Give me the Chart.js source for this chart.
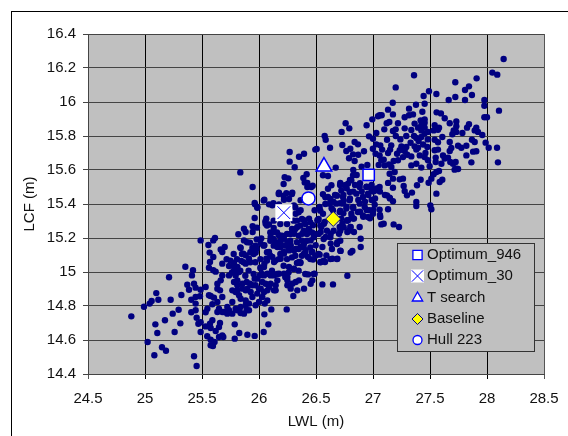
<!DOCTYPE html>
<html>
<head>
<meta charset="utf-8">
<script src="https://cdn.jsdelivr.net/npm/chart.js@4"></script>
<style>
    html, body { margin: 0; padding: 0; background: #ffffff; overflow: hidden; }
    #frame { position: absolute; left: 11px; top: 11px; width: 600px; height: 500px; border-left: 1px solid #000; border-top: 1px solid #000; }
    #migrafica { position: absolute; left: 0; top: 0; }
</style>
</head>
<body>
<div id="frame"></div>
<canvas id="migrafica" width="568" height="436"></canvas>
<script>
const optimum946 = [26.962, 15.571];
const optimum30 = [26.218, 15.349];
const tSearch = [26.57, 15.62];
const baseline = [26.651, 15.312];
const hull223 = [26.434, 15.433];

// LWL, LCF of the population
const hullPoints = [
    [28.146,16.253],[28.047,16.173],[28.09,16.161],[27.909,16.139],[27.36,16.157],[27.199,16.086],[27.722,16.116],[27.842,16.092],
    [27.807,16.071],[27.491,16.063],[27.556,16.047],[27.444,16.035],[27.868,16.041],[27.722,16.029],[27.664,16.012],[27.807,16.012],
    [27.977,16.012],[27.977,15.978],[28.105,15.949],[27.173,15.996],[27.377,15.984],[27.453,15.99],[27.316,15.961],[27.132,15.955],
    [27.433,15.943],[27.558,15.939],[27.596,15.933],[27.629,15.904],[27.977,15.91],[28.0,15.91],[27.058,15.922],[27.076,15.922],
    [27.044,15.916],[27.175,15.927],[27.278,15.91],[27.316,15.922],[27.351,15.927],[26.994,15.898],[27.453,15.898],[27.418,15.892],
    [27.453,15.878],[27.143,15.882],[27.12,15.875],[27.219,15.875],[26.76,15.875],[26.944,15.863],[26.792,15.845],[26.725,15.824],
    [27.099,15.839],[27.199,15.839],[27.175,15.829],[27.278,15.845],[27.336,15.835],[27.365,15.873],[27.424,15.863],[27.453,15.849],
    [27.424,15.833],[27.395,15.849],[27.541,15.863],[27.579,15.849],[27.532,15.833],[27.57,15.837],[27.673,15.875],[27.731,15.886],
    [27.731,15.857],[27.708,15.833],[27.696,15.81],[27.842,15.869],[27.825,15.849],[27.784,15.818],[27.906,15.849],[27.892,15.833],
    [27.921,15.824],[27.959,15.806],[27.731,15.824],[27.029,15.818],[26.965,15.798],[27.0,15.784],[26.576,15.8],[26.585,15.778],
    [27.123,15.778],[27.292,15.8],[27.38,15.788],[27.424,15.794],[27.453,15.814],[27.482,15.824],[27.608,15.794],[27.541,15.778],
    [27.57,15.763],[27.868,15.778],[27.892,15.765],[27.988,15.761],[27.673,15.765],[26.731,15.747],[26.766,15.712],[26.801,15.725],
    [26.839,15.765],[26.868,15.751],[26.494,15.72],[26.623,15.731],[26.999,15.725],[27.029,15.751],[27.064,15.745],[27.023,15.696],
    [26.921,15.71],[26.825,15.692],[26.79,15.669],[26.839,15.653],[27.16,15.745],[27.132,15.7],[27.094,15.661],[27.058,15.686],
    [27.249,15.739],[27.292,15.735],[27.234,15.716],[27.211,15.696],[27.278,15.712],[27.219,15.657],[27.181,15.653],[27.365,15.739],
    [27.395,15.731],[27.477,15.735],[27.541,15.716],[27.57,15.72],[27.673,15.712],[27.687,15.729],[27.746,15.743],[27.819,15.743],
    [27.775,15.731],[27.878,15.708],[27.906,15.71],[28.015,15.731],[28.088,15.731],[27.819,15.686],[27.614,15.686],[27.658,15.673],
    [27.629,15.667],[27.453,15.676],[27.41,15.686],[27.482,15.657],[27.55,15.673],[27.55,15.647],[27.6,15.637],[27.678,15.647],
    [27.725,15.647],[27.702,15.637],[27.863,15.645],[28.096,15.645],[27.336,15.68],[27.263,15.676],[27.336,15.627],[27.38,15.637],
    [27.424,15.614],[27.497,15.622],[27.731,15.608],[27.746,15.606],[27.716,15.602],[27.556,15.588],[27.579,15.594],[27.532,15.575],
    [27.512,15.549],[27.488,15.525],[27.608,15.543],[27.585,15.529],[27.418,15.543],[27.386,15.51],[27.263,15.549],[27.234,15.545],
    [27.19,15.588],[27.146,15.578],[27.161,15.618],[27.102,15.627],[27.073,15.657],[27.14,15.633],[27.269,15.506],[27.278,15.476],
    [27.298,15.451],[27.342,15.467],[27.556,15.461],[27.38,15.412],[27.38,15.388],[27.503,15.392],[27.512,15.369],[27.132,15.369],
    [27.175,15.549],[27.132,15.524],[27.175,15.496],[27.123,15.451],[27.146,15.437],[27.175,15.416],[27.094,15.284],[27.073,15.28],
    [27.181,15.28],[27.228,15.265],[27.058,15.367],[27.064,15.324],[27.015,15.396],[26.883,15.265],[26.801,15.265],[26.825,15.314],
    [26.781,15.304],[26.673,15.614],[26.561,15.569],[26.605,15.565],[26.459,15.5],[26.635,15.51],[26.605,15.49],[26.561,15.457],
    [26.605,15.441],[26.713,15.524],[26.751,15.51],[26.722,15.48],[26.781,15.52],[26.825,15.569],[26.81,15.539],[26.678,15.451],
    [26.737,15.441],[26.795,15.471],[26.854,15.461],[26.912,15.441],[26.956,15.461],[27.0,15.422],[26.883,15.5],[26.942,15.5],
    [26.985,15.49],[27.029,15.48],[27.058,15.5],[26.678,15.402],[26.737,15.402],[26.795,15.422],[26.825,15.382],[26.883,15.402],
    [26.927,15.382],[26.971,15.363],[26.868,15.353],[26.912,15.333],[26.956,15.324],[27.0,15.343],[26.62,15.402],[26.649,15.363],
    [26.708,15.353],[26.766,15.373],[26.81,15.343],[26.532,15.382],[26.488,15.363],[26.561,15.343],[26.576,15.294],[26.518,15.304],
    [26.474,15.275],[26.547,15.265],[26.708,15.265],[26.722,15.314],[24.88,14.739],[24.991,14.796],[25.041,14.814],[25.058,14.829],
    [25.099,14.876],[25.117,14.837],[25.225,14.837],[25.211,14.969],[25.354,15.031],[25.319,14.865],[25.175,14.716],[25.243,14.755],
    [25.295,14.778],[25.091,14.692],[25.108,14.641],[25.26,14.647],[25.31,14.698],[25.023,14.588],[25.149,14.557],[25.184,14.537],
    [25.082,14.51],[25.43,14.504],[25.453,14.447],[25.488,15.186],[25.599,15.186],[25.614,15.2],[25.556,15.159],[25.567,15.114],
    [25.599,15.088],[25.57,15.059],[25.561,15.025],[25.599,15.01],[25.62,15.002],[25.421,15.01],[25.412,14.98],[25.371,14.925],
    [25.43,14.931],[25.386,14.896],[25.444,14.908],[25.488,14.896],[25.532,14.912],[25.406,14.837],[25.444,14.814],[25.482,14.857],
    [25.444,14.853],[25.406,14.763],[25.444,14.775],[25.453,14.731],[25.468,14.696],[25.488,14.704],[25.488,14.647],[25.532,14.763],
    [25.547,14.784],[25.576,14.859],[25.561,14.863],[25.605,14.849],[25.591,14.81],[25.635,14.824],[25.678,14.853],[25.658,14.892],
    [25.635,14.902],[25.635,14.931],[25.649,14.784],[25.635,14.765],[25.591,14.716],[25.57,14.696],[25.532,14.68],[25.576,14.671],
    [25.658,14.7],[25.649,14.676],[25.62,14.653],[25.546,14.622],[25.576,14.602],[25.576,14.569],[25.596,14.565],[25.61,14.588],
    [25.649,14.618],[25.678,14.627],[25.687,14.618],[25.787,14.692],[25.827,14.641],[25.787,14.608],[25.898,14.631],[25.962,14.624],
    [26.041,14.647],[26.082,14.692],[26.047,14.751],[26.108,14.78],[26.243,14.78],[25.699,15.147],[25.664,15.133],[25.678,15.118],
    [25.716,15.075],[25.678,15.049],[25.737,15.035],[25.781,15.055],[25.811,15.029],[25.845,15.065],[25.883,15.049],[25.825,15.0],
    [25.795,14.98],[25.781,15.01],[25.678,14.98],[25.664,14.951],[25.737,14.98],[25.781,14.941],[25.81,14.922],[25.766,14.892],
    [25.795,14.882],[25.825,14.863],[25.854,14.902],[25.892,14.941],[25.921,14.931],[25.883,14.892],[25.927,14.882],[25.962,14.961],
    [26.006,14.98],[26.015,15.02],[26.044,15.029],[26.073,14.99],[26.132,14.98],[26.175,14.99],[25.97,14.922],[26.015,14.902],
    [26.058,14.931],[26.088,14.912],[26.132,14.892],[26.146,14.892],[25.985,14.873],[26.029,14.853],[26.073,14.833],[26.05,14.814],
    [26.0,14.824],[25.766,14.824],[25.722,14.794],[25.693,14.765],[25.737,14.775],[25.795,14.784],[25.839,14.794],[25.839,14.759],
    [25.883,14.804],[25.912,14.814],[25.892,14.775],[25.97,14.804],[26.249,14.971],[26.249,14.922],[26.278,14.902],[26.263,15.029],
    [26.307,15.02],[26.351,15.059],[26.19,15.078],[26.219,15.108],[26.322,14.941],[26.351,14.951],[26.395,14.902],[26.336,14.892],
    [26.301,14.859],[26.43,14.986],[26.488,14.99],[26.468,14.951],[26.453,14.931],[26.556,14.927],[26.649,14.927],[26.775,14.978],
    [26.541,15.059],[26.579,15.059],[26.643,15.078],[26.687,15.078],[26.716,15.124],[26.804,15.114],[26.819,15.124],[26.591,15.098],
    [26.532,15.102],[26.474,15.073],[26.43,15.088],[26.395,15.108],[26.333,15.053],[26.363,15.053],[25.965,15.398],[25.985,15.378],
    [25.962,15.318],[26.064,15.314],[26.058,15.284],[26.088,15.28],[25.868,15.255],[25.883,15.235],[25.819,15.222],[25.944,15.269],
    [25.982,15.261],[25.944,15.235],[25.868,15.186],[25.921,15.173],[25.98,15.192],[26.02,15.198],[25.839,15.141],[25.863,15.108],
    [25.883,15.098],[25.942,15.141],[25.971,15.114],[25.98,15.137],[26.047,15.157],[26.015,15.167],[26.088,15.118],[26.117,15.088],
    [26.132,15.059],[25.912,15.078],[26.064,15.078],[26.047,15.049],[26.219,15.196],[26.175,15.216],[26.132,15.235],[26.102,15.206],
    [26.146,15.176],[26.19,15.167],[26.249,15.176],[26.278,15.157],[26.307,15.127],[26.365,15.147],[26.409,15.127],[26.468,15.118],
    [26.161,15.147],[26.219,15.118],[26.263,15.127],[26.322,15.343],[26.365,15.363],[26.395,15.304],[26.439,15.314],[26.336,15.265],
    [26.307,15.225],[26.38,15.225],[26.439,15.245],[26.482,15.225],[26.541,15.235],[26.57,15.284],[26.512,15.304],[26.453,15.186],
    [26.395,15.167],[26.497,15.157],[26.556,15.147],[26.629,15.167],[26.687,15.176],[26.702,15.225],[26.775,15.235],[26.833,15.235],
    [26.892,15.196],[26.804,15.265],[26.731,15.284],[26.629,15.225],[26.585,15.206],[26.892,15.147],[26.775,15.304],[26.833,15.314],
    [26.117,15.392],[26.175,15.398],[26.307,15.392],[26.041,15.42],[26.173,15.459],[26.216,15.449],[26.289,15.459],[26.056,15.298],
    [26.07,15.273],[26.129,15.259],[26.319,15.38],[26.348,15.351],[26.304,15.302],[26.333,15.302],[26.377,15.312],[26.406,15.282],
    [26.45,15.292],[26.319,15.253],[26.392,15.243],[26.465,15.233],[26.582,15.439],[26.626,15.429],[26.684,15.449],[26.743,15.42],
    [26.538,15.361],[26.523,15.312],[26.582,15.4],[26.713,15.361],[26.772,15.302],[26.743,15.263],[26.713,15.243],[26.787,15.243],
    [26.538,15.273],[26.596,15.243],[26.523,15.224],[26.655,15.243],[26.099,15.233],[26.158,15.233],[26.129,15.194],[26.187,15.184],
    [26.246,15.224],[26.158,15.155],[26.099,15.184],[26.041,15.155],[26.231,15.155],[26.275,15.184],[26.333,15.175],[26.377,15.184],
    [26.421,15.184],[26.392,15.145],[26.45,15.145],[26.319,15.135],[26.567,15.194],[26.626,15.204],[26.684,15.165],[26.713,15.184],
    [26.64,15.135],[26.713,15.125],[26.523,15.106],[26.567,15.067],[26.626,15.076],[26.684,15.076],[26.538,15.057],[25.836,15.145],
    [25.851,15.106],[25.895,15.175],[25.924,15.116],[25.968,15.155],[25.953,15.106],[26.07,15.116],[26.099,15.096],[26.187,15.106],
    [26.143,15.067],[26.216,15.037],[26.289,15.086],[26.363,15.057],[26.45,15.076],[26.304,15.018],[26.231,14.969],[26.406,14.988],
    [26.48,14.988],[25.865,15.057],[25.909,15.008],[25.836,15.008],[26.012,15.027],[25.778,15.037],[25.763,14.998],[26.026,14.988],
    [26.506,15.724],[26.269,15.706],[26.395,15.696],[26.351,15.678],[26.269,15.649],[26.313,15.616],[25.836,15.586],[26.225,15.557],
    [26.257,15.551],[26.418,15.575],[26.389,15.553],[26.216,15.518],[26.401,15.527],[26.424,15.524],[26.424,15.5],[26.471,15.508],
    [25.944,15.5],[26.175,15.467],[26.24,15.463],[26.292,15.467],[26.263,15.429],[26.219,15.425],[26.047,15.425],[25.962,15.406],
    [25.985,15.382],[26.088,15.398],[26.126,15.404],[26.365,15.422],
    [26.827,15.6],[26.857,15.571],[26.798,15.541],[26.842,15.512],[26.886,15.522],[26.944,15.502],[26.988,15.512],[27.032,15.492],
    [27.061,15.473],[27.105,15.453],[27.149,15.433],[27.003,15.473],[26.959,15.453],[26.901,15.473],[26.827,15.473],[26.769,15.492],
    [26.711,15.512],[26.74,15.453],[26.798,15.433],[26.871,15.424],[26.93,15.414],[26.988,15.424],[27.018,15.433],[26.667,15.453],
    [26.711,15.404],[26.769,15.384],[26.827,15.375],[26.886,15.355],[26.944,15.365],[27.003,15.365],[27.061,15.335],[26.652,15.414],
    [26.637,15.375],[26.74,15.345],[26.813,15.325],[26.915,15.325],[26.973,15.316],
    [26.129,15.302],[26.187,15.282],[26.246,15.282],[26.289,15.253],[26.363,15.273],[26.436,15.253],[26.48,15.204],[26.421,15.224],
    [26.348,15.214],[26.275,15.224],[26.202,15.214],[26.129,15.155],[26.187,15.145],[26.26,15.135],[26.348,15.135],[26.406,15.106],
    [26.319,15.096],[26.246,15.076],[26.173,15.076],[26.07,15.067],[26.012,15.076],[25.968,15.057],[25.924,15.057],[25.807,15.076],
    [25.778,15.106],[25.749,15.067],[25.792,14.988],[25.88,14.978],[25.953,14.988],[26.114,15.008],[26.158,14.988],[26.348,15.008],
    [26.26,14.998],[26.377,15.096],[26.465,15.116],[26.494,15.096],
    [25.81,14.951],[25.854,14.931],[25.898,14.902],[25.81,14.892],[25.839,14.843],[25.883,14.833],[25.942,14.853],[26.0,14.902],
    [26.044,14.882],[26.102,14.931],[26.161,14.951],[26.073,14.892],[25.81,14.775],[25.766,14.755],[25.722,14.755],[25.678,14.765],
    [25.868,14.755],[25.912,14.775],[25.942,14.922],[25.985,14.961],[26.102,14.98],[26.044,14.98],[26.029,14.941],[26.146,14.922],
    [26.249,14.951],[26.292,14.931],[26.219,14.99],
    [27.36,15.8],[27.4,15.77],[27.44,15.75],[27.48,15.78],[27.33,15.76],[27.46,15.7],[27.38,15.72],[27.3,15.69],
    [27.24,15.78],[27.2,15.8],[27.15,15.72],[27.08,15.72],[27.05,15.63],[26.95,15.63],[26.9,15.62],[26.87,15.69]
];

const xTickStep = 0.5;
const yTickStep = 0.2;
const xRange = [24.5, 28.5];
const yRange = [14.4, 16.4];

function tickText(v) { return String(Number(v.toFixed(1))); }

// grey plot area behind the grid
const plotBack = {
    id: "plotBack",
    beforeDraw(chart) {
        let a = chart.chartArea;
        chart.ctx.save();
        chart.ctx.fillStyle = "#c0c0c0";
        chart.ctx.fillRect(a.left, a.top, a.right - a.left, a.bottom - a.top);
        chart.ctx.restore();
    }
};

// excel style legend box sitting on the plot
const legendBox = {
    id: "legendBox",
    afterDraw(chart) {
        let ctx = chart.ctx;
        ctx.save();
        ctx.fillStyle = "#c0c0c0";
        ctx.strokeStyle = "#333333";
        ctx.lineWidth = 1;
        ctx.fillRect(397.5, 243.5, 137, 108);
        ctx.strokeRect(397.5, 243.5, 137, 108);

        let rows = [
            { label: "Optimum_946", style: "rect", r: 6.5, fill: "#ffffff", line: "#0000ff", w: 1.3 },
            { label: "Optimum_30", style: "crossRot", r: 8, fill: "#ffffff", line: "#0000ff", w: 1, back: 6.5 },
            { label: "T search", style: "triangle", r: 6, fill: "#ffffff", line: "#0000ff", w: 1.3 },
            { label: "Baseline", style: "rectRot", r: 5.5, fill: "#ffff00", line: "#000080", w: 1 },
            { label: "Hull 223", style: "circle", r: 4.5, fill: "#ffffff", line: "#0000ff", w: 1.3 }
        ];
        let rowY = [255, 276, 298, 319, 340];
        rows.forEach(function (row, i) {
            if (row.back) {
                ctx.fillStyle = "#ffffff";
                ctx.fillRect(417.5 - row.back, rowY[i] - row.back, row.back * 2, row.back * 2);
            }
            ctx.fillStyle = row.fill;
            ctx.strokeStyle = row.line;
            ctx.lineWidth = row.w;
            Chart.helpers.drawPoint(ctx, { pointStyle: row.style, rotation: 0, radius: row.r, borderWidth: row.w }, 417.5, rowY[i]);
            ctx.fillStyle = "#111111";
            ctx.font = "15px 'Liberation Sans'";
            ctx.textBaseline = "middle";
            ctx.fillText(row.label, 427, rowY[i]);
        });
        ctx.restore();
    }
};

document.addEventListener("DOMContentLoaded", function () {

    let micanvas = document.getElementById("migrafica").getContext("2d");

    let chart = new Chart(micanvas, {
        type: "scatter",
        plugins: [plotBack, legendBox],
        data: {
            datasets: [
                {
                    label: "Hull 223",
                    data: [{ x: hull223[0], y: hull223[1] }],
                    pointStyle: "circle",
                    pointRadius: 6.5,
                    backgroundColor: "#ffffff",
                    borderColor: "#0000ff",
                    borderWidth: 1.5,
                    order: 1
                },
                {
                    label: "Baseline",
                    data: [{ x: baseline[0], y: baseline[1] }],
                    pointStyle: "rectRot",
                    pointRadius: 7.5,
                    backgroundColor: "#ffff00",
                    borderColor: "#000080",
                    borderWidth: 1,
                    order: 2
                },
                {
                    label: "T search",
                    data: [{ x: tSearch[0], y: tSearch[1] }],
                    pointStyle: "triangle",
                    pointRadius: 9,
                    backgroundColor: "#ffffff",
                    borderColor: "#0000ff",
                    borderWidth: 1.5,
                    order: 3
                },
                {
                    label: "Optimum_30",
                    data: [{ x: optimum30[0], y: optimum30[1] }],
                    pointStyle: "crossRot",
                    pointRadius: 9,
                    backgroundColor: "#ffffff",
                    borderColor: "#0000ff",
                    borderWidth: 1,
                    order: 4
                },
                {
                    label: "Optimum_30 back",
                    data: [{ x: optimum30[0], y: optimum30[1] }],
                    pointStyle: "rect",
                    pointRadius: 12,
                    backgroundColor: "#ffffff",
                    borderWidth: 0,
                    order: 5
                },
                {
                    label: "Optimum_946",
                    data: [{ x: optimum946[0], y: optimum946[1] }],
                    pointStyle: "rect",
                    pointRadius: 8,
                    backgroundColor: "#ffffff",
                    borderColor: "#0000ff",
                    borderWidth: 1.5,
                    order: 6
                },
                {
                    label: "Population",
                    data: hullPoints.map(function (p) { return { x: p[0], y: p[1] }; }),
                    pointStyle: "circle",
                    pointRadius: 3.2,
                    backgroundColor: "#000080",
                    borderWidth: 0,
                    order: 7
                }
            ]
        },
        options: {
            responsive: false,
            animation: false,
            layout: { padding: { top: 34, right: 24, left: 0, bottom: 0 } },
            plugins: {
                legend: { display: false },
                tooltip: { enabled: false }
            },
            scales: {
                x: {
                    type: "linear",
                    min: xRange[0],
                    max: xRange[1],
                    afterFit: function (s) {
                        s.height = 62;
                        s.paddingRight = 0;
                        s.paddingLeft = 0;
                    },
                    ticks: {
                        stepSize: xTickStep,
                        color: "#111111",
                        padding: 11,
                        maxRotation: 0,
                        autoSkip: false,
                        font: { family: "'Liberation Sans'", size: 15 },
                        callback: tickText
                    },
                    grid: {
                        color: function (c) { return (c.index === 0 || c.index === 8) ? "#555555" : "#000000"; },
                        tickLength: 5,
                        lineWidth: 1
                    },
                    border: { color: "#444444" },
                    title: {
                        display: true,
                        text: "LWL (m)",
                        color: "#111111",
                        font: { family: "'Liberation Sans'", size: 15 },
                        padding: { top: 4, bottom: 5 }
                    }
                },
                y: {
                    type: "linear",
                    min: yRange[0],
                    max: yRange[1],
                    afterFit: function (s) { s.width = 88; },
                    ticks: {
                        stepSize: yTickStep,
                        color: "#111111",
                        padding: 7,
                        autoSkip: false,
                        font: { family: "'Liberation Sans'", size: 15 },
                        callback: tickText
                    },
                    grid: { color: "#444444", tickLength: 5, lineWidth: 1 },
                    border: { color: "#444444" },
                    title: {
                        display: true,
                        text: "LCF (m)",
                        color: "#111111",
                        font: { family: "'Liberation Sans'", size: 15 },
                        padding: { top: 21, bottom: 0 }
                    }
                }
            }
        }
    });

});
</script>
</body>
</html>
